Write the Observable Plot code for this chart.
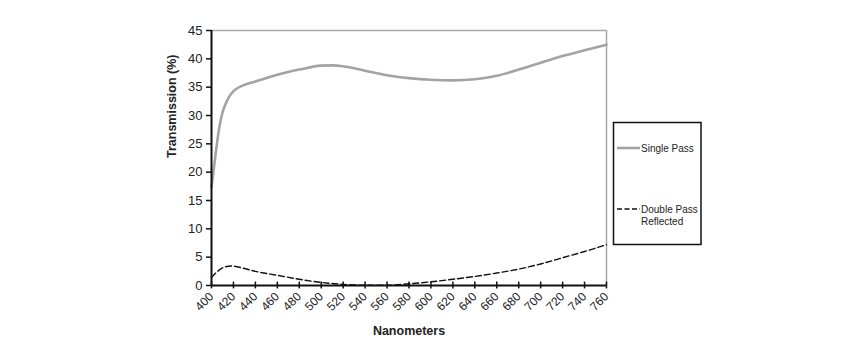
<!DOCTYPE html>
<html>
<head>
<meta charset="utf-8">
<script src="https://cdn.jsdelivr.net/npm/d3@7"></script>
<script src="https://cdn.jsdelivr.net/npm/@observablehq/plot@0.6"></script>
<style>
  html, body { margin: 0; padding: 0; background: #fff; }
  #chart { width: 864px; height: 356px; }
  svg { font-family: "Liberation Sans", Arial, sans-serif; }
</style>
</head>
<body>
<div id="chart"></div>
<script>
const singleNm   = [400, 402, 404, 406, 408, 410, 413, 416, 420, 430, 440, 460, 480, 500, 510, 520, 540, 560, 580, 600, 620, 640, 660, 680, 700, 720, 740, 760];
const singlePass = [17.3, 20.5, 23.6, 26.5, 28.8, 30.5, 32.1, 33.3, 34.3, 35.4, 36.0, 37.2, 38.1, 38.8, 38.85, 38.7, 37.9, 37.1, 36.6, 36.3, 36.2, 36.4, 37.0, 38.1, 39.3, 40.5, 41.5, 42.5];
const doubleNm   = [400, 405, 410, 418, 430, 440, 460, 480, 500, 520, 540, 560, 580, 600, 620, 640, 660, 680, 700, 720, 740, 760];
const doublePass = [1.4, 2.4, 3.1, 3.45, 3.0, 2.5, 1.8, 1.1, 0.55, 0.2, 0.05, 0.05, 0.3, 0.65, 1.1, 1.6, 2.2, 2.9, 3.8, 4.9, 6.0, 7.2];
const xTicks = d3.range(400, 761, 20);
const yTicks = d3.range(0, 46, 5);
const seriesNames = ["Single Pass", "Double Pass", "Reflected"];

const single = singleNm.map((x, i) => ({x, y: singlePass[i]}));
const dbl = doubleNm.map((x, i) => ({x, y: doublePass[i]}));

const plot = Plot.plot({
  width: 864,
  height: 356,
  marginLeft: 211,
  marginRight: 258,
  marginTop: 30,
  marginBottom: 71,
  style: {fontFamily: "Liberation Sans, Arial, sans-serif", fontSize: "12px", color: "#222", background: "#fff"},
  x: {domain: [400, 760]},
  y: {domain: [0, 45]},
  marks: [
    Plot.ruleY([45], {stroke: "#a8a8a8", strokeWidth: 1.5}),
    Plot.ruleX([760], {stroke: "#a8a8a8", strokeWidth: 1.5}),
    Plot.line(single, {x: "x", y: "y", stroke: "#a3a3a3", strokeWidth: 2.6, curve: "monotone-x"}),
    Plot.line(dbl, {x: "x", y: "y", stroke: "#111", strokeWidth: 1.4, strokeDasharray: "6,3", curve: "monotone-x"}),
    Plot.ruleX([400], {stroke: "#111", strokeWidth: 2}),
    Plot.ruleY([0], {stroke: "#111", strokeWidth: 2}),
    Plot.ruleX(xTicks, {y1: -0.6, y2: 0.6, stroke: "#111", strokeWidth: 1.5}),
    Plot.axisY({ticks: yTicks, tickSize: 5, tickPadding: 4, stroke: "#111", strokeWidth: 1.5, fontSize: 13, label: null}),
    Plot.axisX({ticks: xTicks, tickSize: 0, tickPadding: 9, tickRotate: -45, fontSize: 12, label: null}),
    Plot.text(["Transmission (%)"], {frameAnchor: "left", dx: -40, rotate: -90, fontWeight: "bold", fontSize: 12.5}),
    Plot.text(["Nanometers"], {frameAnchor: "bottom", dy: 49, fontWeight: "bold", fontSize: 12.5})
  ]
});
document.getElementById("chart").appendChild(plot);

// Legend
const svg = d3.select(plot);
const lg = svg.append("g").attr("font-family", "Liberation Sans, Arial, sans-serif").attr("font-size", 10).attr("fill", "#222").attr("text-anchor", "start");
lg.append("rect").attr("x", 613.5).attr("y", 122.5).attr("width", 87.5).attr("height", 122).attr("fill", "none").attr("stroke", "#111").attr("stroke-width", 1.5);
lg.append("line").attr("x1", 617).attr("x2", 640).attr("y1", 148).attr("y2", 148).attr("stroke", "#a3a3a3").attr("stroke-width", 2.6);
lg.append("text").attr("x", 641).attr("y", 148).attr("dy", "0.35em").text(seriesNames[0]);
lg.append("line").attr("x1", 617).attr("x2", 640).attr("y1", 209).attr("y2", 209).attr("stroke", "#111").attr("stroke-width", 1.4).attr("stroke-dasharray", "5,2.5");
lg.append("text").attr("x", 641).attr("y", 209).attr("dy", "0.35em").text(seriesNames[1]);
lg.append("text").attr("x", 641).attr("y", 221).attr("dy", "0.35em").text(seriesNames[2]);
</script>
</body>
</html>
